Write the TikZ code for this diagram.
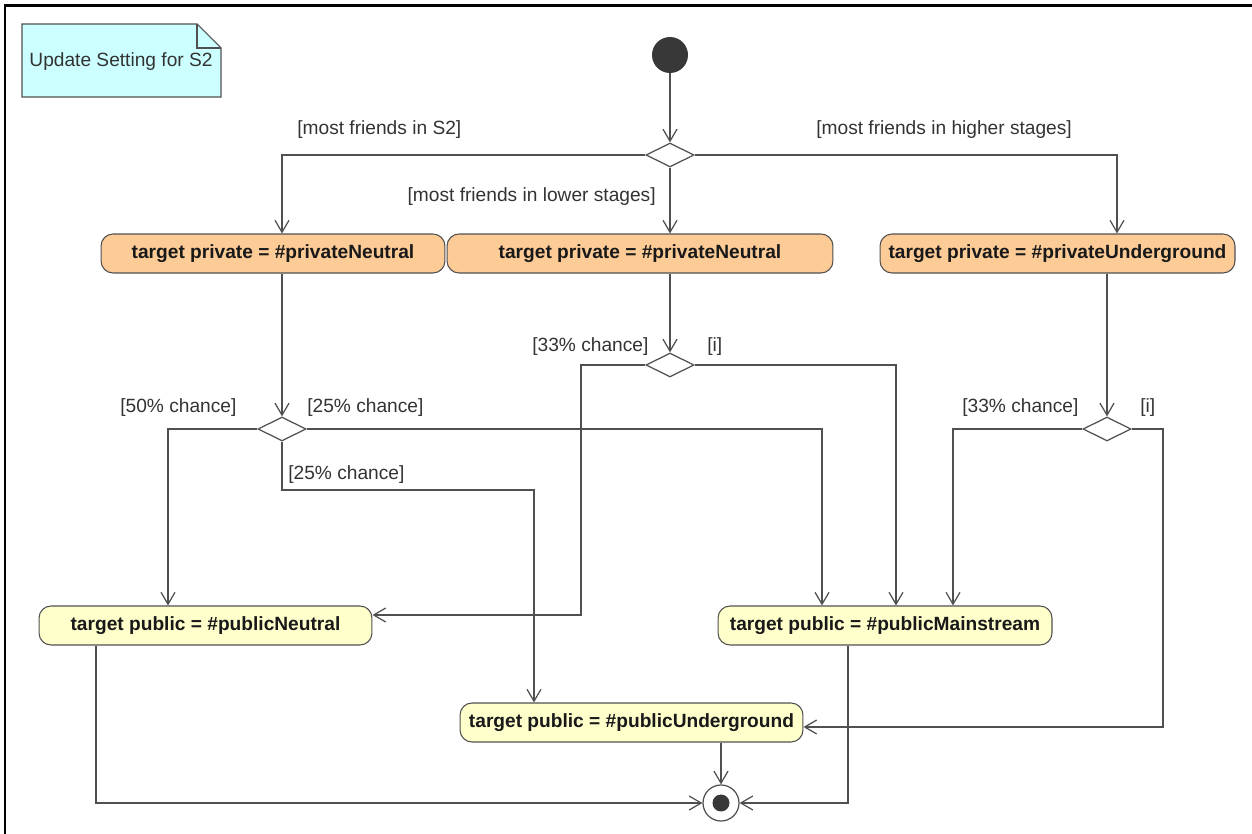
\documentclass[tikz,border=0pt]{standalone}
\usepackage{fontspec}
\setmainfont{Liberation Sans}
\usetikzlibrary{arrows.meta,shapes.geometric}

\definecolor{linegray}{HTML}{505050}
\definecolor{privfill}{HTML}{FDCB96}
\definecolor{pubfill}{HTML}{FFFFCC}
\definecolor{notefill}{HTML}{CCFFFF}
\definecolor{inkdark}{HTML}{333333}
\definecolor{dotfill}{HTML}{383838}

\tikzset{
  flow/.style={draw=linegray, line width=0.7pt,
    -{Straight Barb[length=0.24cm,width=0.28cm]}},
  action/.style={draw=linegray, line width=0.6pt, rounded corners=0.24cm,
    minimum height=0.78cm, inner sep=0pt,
    font=\fontsize{10.9}{13}\selectfont\bfseries, text=black!90},
  privact/.style={action, fill=privfill},
  pubact/.style={action, fill=pubfill},
  choice/.style={diamond, draw=linegray, line width=0.7pt, fill=white,
    minimum width=0.96cm, minimum height=0.48cm, inner sep=0pt},
  guard/.style={font=\fontsize{10.9}{13}\selectfont, text=inkdark, inner sep=0pt},
  startdot/.style={circle, fill=dotfill, minimum size=0.72cm, inner sep=0pt},
  finaldot/.style={circle, draw=linegray, line width=0.7pt, fill=white,
    minimum size=0.72cm, inner sep=0pt},
  notetext/.style={font=\fontsize{10.9}{13}\selectfont, text=inkdark, inner sep=0pt},
}

\begin{document}
\begin{tikzpicture}[x=0.02cm, y=-0.02cm]
  \useasboundingbox (0,0) rectangle (1252,834);
  \fill[white] (0,0) rectangle (1252,834);

  % frame
  \draw[black, line width=1.4pt] (1252,5.5) -- (5,5.5) -- (5,834);

  % note with folded corner
  \filldraw[fill=notefill, draw=linegray, line width=0.6pt]
    (22,24) -- (197,24) -- (221,48) -- (221,97) -- (22,97) -- cycle;
  \draw[linegray, line width=0.6pt] (197,24) -- (197,48) -- (221,48);
  \node[notetext] (note) at (121,62) {Update Setting for S2};

  % nodes
  \node[startdot] (start) at (670,55) {};
  \node[choice] (d1) at (670,155) {};

  \node[privact, minimum width=6.88cm] (a1) at (273,253.5)    {target private = \#privateNeutral};
  \node[privact, minimum width=7.72cm] (a2) at (640,253.5)    {target private = \#privateNeutral};
  \node[privact, minimum width=7.1cm]  (a3) at (1057.5,253.5) {target private = \#privateUnderground};

  \node[choice] (d2) at (670,365) {};
  \node[choice] (d3) at (282,429) {};
  \node[choice] (d4) at (1107,429) {};

  \node[pubact, minimum width=6.66cm] (a4) at (205.5,625.5) {target public = \#publicNeutral};
  \node[pubact, minimum width=6.68cm] (a5) at (885,625.5)   {target public = \#publicMainstream};
  \node[pubact, minimum width=6.86cm] (a6) at (631.5,722.5) {target public = \#publicUnderground};

  \node[finaldot] (end) at (721,803) {};
  \fill[dotfill] (end.center) circle (0.17cm);

  % bend points
  \coordinate (k1) at (581,615);
  \coordinate (k2) at (896,365);
  \coordinate (k3) at (168,429);
  \coordinate (k4) at (822,429);
  \coordinate (k5) at (282,490);
  \coordinate (k5b) at (534,490);
  \coordinate (k6) at (953,429);
  \coordinate (k7) at (1163,727);
  \coordinate (k8) at (96,803);
  \coordinate (k9) at (848,803);
  \coordinate (k10) at (1117,155);

  % guards
  \node[guard, anchor=west] (g1) at (297,130) {[most friends in S2]};
  \node[guard, anchor=east] (g2) at (656,197) {[most friends in lower stages]};
  \node[guard, anchor=west] (g3) at (816,130) {[most friends in higher stages]};
  \node[guard, anchor=west] (g4) at (532,347) {[33\% chance]};
  \node[guard, anchor=west] (g5) at (707,347) {[i]};
  \node[guard, anchor=west] (g6) at (120,408) {[50\% chance]};
  \node[guard, anchor=west] (g7) at (307,408) {[25\% chance]};
  \node[guard, anchor=west] (g8) at (288,475) {[25\% chance]};
  \node[guard, anchor=west] (g9) at (962,408) {[33\% chance]};
  \node[guard, anchor=west] (g10) at (1140,408) {[i]};

  % connectors
  \draw[flow] (start) -- (d1);
  \draw[flow] (d1.west) -| (a1.north -| d3.north);
  \draw[flow] (d1.south) -- (a2.north -| d1.south);
  \draw[flow] (d1.east) -| (a3.north -| k10);

  \draw[flow] (a1.south -| d3.north) -- (d3.north);
  \draw[flow] (a2.south -| d2.north) -- (d2.north);
  \draw[flow] (a3.south -| d4.north) -- (d4.north);

  \draw[flow] (d2.west) -| (k1) -- (a4.east |- k1);
  \draw[flow] (d2.east) -| (a5.north -| k2);

  \draw[flow] (d3.west) -| (a4.north -| k3);
  \draw[flow] (d3.east) -| (a5.north -| k4);
  \draw[flow] (d3.south) -- (k5) -- (k5b) -- (a6.north -| k5b);

  \draw[flow] (d4.west) -| (a5.north -| k6);
  \draw[flow] (d4.east) -| (k7) -- (a6.east |- k7);

  \draw[flow] (a6.south -| end.north) -- (end.north);
  \draw[flow] (a4.south -| k8) -- (k8) -- (end.west);
  \draw[flow] (a5.south -| k9) -- (k9) -- (end.east);
\end{tikzpicture}
\end{document}
